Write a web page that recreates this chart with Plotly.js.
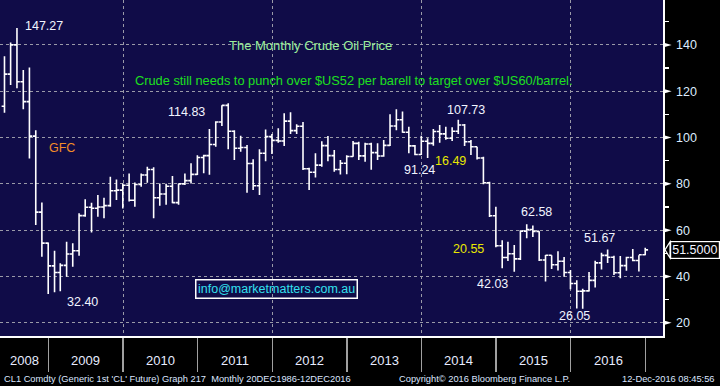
<!DOCTYPE html>
<html>
<head>
<meta charset="utf-8">
<script src="https://cdn.plot.ly/plotly-3.0.1.min.js"></script>
<style>
html,body{margin:0;padding:0;background:#000;}
#chart{width:720px;height:386px;}
</style>
</head>
<body>
<div id="chart"></div>
<script>
// ---- Data (monthly CL1 bars) ----
const months = [
  "2008-05","2008-06","2008-07","2008-08","2008-09","2008-10","2008-11","2008-12",
  "2009-01","2009-02","2009-03","2009-04","2009-05","2009-06","2009-07","2009-08","2009-09","2009-10","2009-11","2009-12",
  "2010-01","2010-02","2010-03","2010-04","2010-05","2010-06","2010-07","2010-08","2010-09","2010-10","2010-11","2010-12",
  "2011-01","2011-02","2011-03","2011-04","2011-05","2011-06","2011-07","2011-08","2011-09","2011-10","2011-11","2011-12",
  "2012-01","2012-02","2012-03","2012-04","2012-05","2012-06","2012-07","2012-08","2012-09","2012-10","2012-11","2012-12",
  "2013-01","2013-02","2013-03","2013-04","2013-05","2013-06","2013-07","2013-08","2013-09","2013-10","2013-11","2013-12",
  "2014-01","2014-02","2014-03","2014-04","2014-05","2014-06","2014-07","2014-08","2014-09","2014-10","2014-11","2014-12",
  "2015-01","2015-02","2015-03","2015-04","2015-05","2015-06","2015-07","2015-08","2015-09","2015-10","2015-11","2015-12",
  "2016-01","2016-02","2016-03","2016-04","2016-05","2016-06","2016-07","2016-08","2016-09","2016-10","2016-11","2016-12"
];
const openP = [
  113.5,127.4,140.0,124.1,115.5,100.6,67.8,54.4,
  44.6,41.7,44.8,49.7,51.1,66.3,69.9,69.5,70.0,70.6,77.0,77.3,
  79.4,72.9,79.7,83.8,86.2,74.0,75.6,79.0,71.9,80.0,81.4,84.1,
  91.4,92.2,97.0,106.7,113.9,102.7,95.4,95.7,88.8,79.2,93.2,100.4,
  98.8,98.5,107.1,103.0,104.9,86.5,85.0,88.1,96.5,92.2,86.2,88.9,
  91.8,97.5,92.1,97.2,93.5,92.0,96.6,105.0,107.7,102.3,96.4,92.7,
  98.4,97.5,102.6,101.6,99.7,102.7,105.4,98.2,96.0,91.2,80.5,66.2,
  53.3,48.2,49.8,47.6,59.6,60.3,59.5,47.1,49.2,45.1,46.6,41.7,
  37.0,33.6,33.8,38.3,45.9,49.1,48.3,41.6,44.7,48.2,46.9,49.4
];
const highP = [
  135.1,141.0,147.3,129.2,130.3,103.2,72.0,54.7,
  51.1,45.7,55.0,54.3,67.3,73.4,71.8,75.2,74.0,83.1,81.9,80.2,
  84.5,80.6,84.5,87.4,87.2,80.2,80.0,83.4,80.2,84.5,88.9,92.4,
  92.6,103.7,107.0,113.9,114.8,103.1,100.8,96.8,90.6,94.9,103.5,101.5,
  104.0,110.5,110.9,105.7,106.7,87.0,93.2,98.4,100.7,94.6,90.3,92.4,
  98.5,98.2,97.8,97.8,97.5,98.9,110.1,112.2,111.2,104.7,96.8,100.8,
  99.7,103.7,105.4,104.7,104.5,107.7,105.9,98.9,96.0,91.7,80.9,70.1,
  55.7,55.0,53.6,60.0,62.6,62.0,59.5,49.3,49.2,50.9,48.4,42.8,
  38.4,34.7,41.9,46.8,50.2,51.7,49.0,48.8,48.5,51.9,49.2,52.4
];
const lowP = [
  110.7,122.7,121.3,112.2,91.0,62.2,48.5,32.4,
  33.2,33.6,39.9,44.2,49.0,65.8,59.0,65.8,65.1,70.1,73.0,69.4,
  72.4,70.1,78.8,80.5,65.1,70.5,71.0,71.6,71.0,79.5,80.2,83.8,
  84.6,83.9,96.0,105.0,95.0,90.3,93.9,76.2,77.3,75.2,89.8,92.9,
  97.8,96.3,101.5,101.5,86.0,77.3,82.8,87.4,89.8,85.2,84.0,84.1,
  91.7,90.3,89.5,86.1,90.3,91.7,96.4,103.2,102.1,93.2,92.4,92.5,
  91.2,96.5,97.8,99.0,98.5,101.5,96.4,92.5,90.5,79.8,65.7,52.6,
  43.6,46.7,42.0,47.1,56.5,57.1,46.7,37.8,43.2,42.6,39.9,34.5,
  26.2,26.1,33.5,35.2,43.0,45.8,40.6,39.2,42.5,46.6,42.2,49.2
];
const closeP = [
  127.4,140.0,124.1,115.5,100.6,67.8,54.4,44.6,
  41.7,44.8,49.7,51.1,66.3,69.9,69.5,70.0,70.6,77.0,77.3,79.4,
  72.9,79.7,83.8,86.2,74.0,75.6,79.0,71.9,80.0,81.4,84.1,91.4,
  92.2,97.0,106.7,113.9,102.7,95.4,95.7,88.8,79.2,93.2,100.4,98.8,
  98.5,107.1,103.0,104.9,86.5,85.0,88.1,96.5,92.2,86.2,88.9,91.8,
  97.5,92.1,97.2,93.5,92.0,96.6,105.0,107.7,102.3,96.4,92.7,98.4,
  97.5,102.6,101.6,99.7,102.7,105.4,98.2,96.0,91.2,80.5,66.2,53.3,
  48.2,49.8,47.6,59.6,60.3,59.5,47.1,49.2,45.1,46.6,41.7,37.0,
  33.6,33.8,38.3,45.9,49.1,48.3,41.6,44.7,48.2,46.9,49.4,51.5
];
const yearLabels = [2008,2009,2010,2011,2012,2013,2014,2015,2016,2017];
const yTickVals = [20,40,60,80,100,120,140];
const yMinorVals = [30,50,70,90,110,130,150];

const callouts = [
  {text:"147.27", x:0.0661, y:0.9226, color:"#f2f5ff"},
  {text:"114.83", x:0.2817, y:0.6658, color:"#f2f5ff"},
  {text:"GFC",    x:0.0931, y:0.5604, color:"#f28c28"},
  {text:"32.40",  x:0.1249, y:0.1003, color:"#f2f5ff"},
  {text:"91.24",  x:0.6323, y:0.4940, color:"#f2f5ff"},
  {text:"16.49",  x:0.6795, y:0.5217, color:"#e8e800"},
  {text:"107.73", x:0.7026, y:0.6726, color:"#f2f5ff"},
  {text:"20.55",  x:0.7063, y:0.2589, color:"#e8e800"},
  {text:"42.03",  x:0.7428, y:0.1548, color:"#f2f5ff"},
  {text:"62.58",  x:0.8097, y:0.3682, color:"#f2f5ff"},
  {text:"51.67",  x:0.9035, y:0.2908, color:"#f2f5ff"},
  {text:"26.05",  x:0.8658, y:0.0595, color:"#f2f5ff"}
];

// ---- helpers ----
function monthEnd(s){
  const p = s.split('-').map(Number);
  return new Date(Date.UTC(p[0], p[1], 0)).toISOString().slice(0,10);
}
const xDates = months.map(monthEnd);
const xStart = '2008-05-09', xEnd = '2017-03-28';
const FONT = 'Arial, "Liberation Sans", sans-serif';

const trace = {
  type:'ohlc',
  x:xDates, open:openP, high:highP, low:lowP, close:closeP,
  increasing:{line:{color:'#ffffff', width:1.6}},
  decreasing:{line:{color:'#ffffff', width:1.6}},
  tickwidth:0.5,
  hoverinfo:'skip',
  showlegend:false
};

const annotations = [];
callouts.forEach(c => annotations.push({
  xref:'paper', yref:'paper', x:c.x, y:c.y, text:c.text, showarrow:false,
  xanchor:'center', yanchor:'middle', font:{family:FONT, size:12.5, color:c.color}
}));
annotations.push({xref:'paper', yref:'paper', x:0.4676, y:0.8929, text:'The Monthly Crude Oil Price',
  showarrow:false, font:{family:FONT, size:13, color:'#9cf09c'}});
annotations.push({xref:'paper', yref:'paper', x:0.5339, y:0.7896,
  text:'Crude still needs to punch over $US52 per barell to target over $US60/barrel.',
  showarrow:false, font:{family:FONT, size:12.8, color:'#1ee01e'}});
annotations.push({xref:'paper', yref:'paper', x:0.4163, y:0.1101, text:'info@marketmatters.com.au',
  showarrow:false, bordercolor:'#ffffff', borderwidth:1.5, borderpad:1.5, bgcolor:'rgba(0,0,0,0)',
  font:{family:FONT, size:12.5, color:'#33e0ee'}});

// year labels centred on visible portion of each year
const s0 = Date.parse(xStart), s1 = Date.parse(xEnd);
yearLabels.forEach(y => {
  const a = Math.max(Date.UTC(y,0,1), s0), b = Math.min(Date.UTC(y+1,0,1), s1);
  if ((b - a) < 0.5*365*86400000) return;
  annotations.push({xref:'x', yref:'paper', x:new Date((a+b)/2).toISOString().slice(0,10), y:-0.0744,
    text:String(y), showarrow:false, yanchor:'middle', font:{family:FONT, size:13, color:'#e6ecff'}});
});

// last price label
const last = closeP[closeP.length-1];
annotations.push({xref:'paper', yref:'y', x:1.048, y:last, text:last.toFixed(4), showarrow:false,
  xanchor:'center', yanchor:'middle', bgcolor:'#000000', bordercolor:'#ffffff', borderwidth:1.2, borderpad:1,
  font:{family:FONT, size:12.5, color:'#f2f5ff'}});

// footer
annotations.push({xref:'paper', yref:'paper', x:0.003, y:-0.128, xanchor:'left', yanchor:'middle', showarrow:false,
  text:"CL1 Comdty (Generic 1st 'CL' Future) Graph 217  Monthly 20DEC1986-12DEC2016",
  font:{family:FONT, size:9.3, color:'#dde6ff'}});
annotations.push({xref:'paper', yref:'paper', x:0.5983, y:-0.128, xanchor:'left', yanchor:'middle', showarrow:false,
  text:"Copyright\u00a9 2016 Bloomberg Finance L.P.", font:{family:FONT, size:9.3, color:'#dde6ff'}});
annotations.push({xref:'paper', yref:'paper', x:1.0820, y:-0.128, xanchor:'right', yanchor:'middle', showarrow:false,
  text:"12-Dec-2016 08:45:56", font:{family:FONT, size:9.3, color:'#dde6ff'}});

// axis tick triangles
const shapes = yTickVals.map(v => ({
  type:'path', xref:'paper', yref:'y',
  path:`M 1 ${v+1.1} L 1.013 ${v} L 1 ${v-1.1} Z`,
  fillcolor:'#ffffff', line:{width:0}
}));
shapes.push({type:'path', xref:'paper', yref:'y',
  path:`M 1.0106 ${last+3.5} L 1.003 ${last} L 1.0106 ${last-3.5} Z`,
  fillcolor:'#000000', line:{color:'#ffffff', width:1.2}});

const layout = {
  width:720, height:386,
  margin:{l:0, r:57, t:0, b:50, pad:0},
  paper_bgcolor:'#000000',
  plot_bgcolor:'#100c48',
  showlegend:false,
  hovermode:false,
  xaxis:{
    type:'date', range:[xStart, xEnd],
    rangeslider:{visible:false},
    showticklabels:false,
    tick0:'2010-01-01', dtick:'M24',
    ticks:'outside', ticklen:34, tickcolor:'#a0a0a0', tickwidth:1.2,
    showgrid:true, gridcolor:'#9a9aa8', gridwidth:1, griddash:'3px,3px',
    minor:{tick0:'2008-01-01', dtick:'M12', ticks:'outside', ticklen:34, tickcolor:'#a0a0a0', tickwidth:1.2, showgrid:false},
    showline:true, linecolor:'#ffffff', linewidth:1.5,
    zeroline:false, fixedrange:true
  },
  yaxis:{
    side:'right', range:[14.3, 159.4],
    tickvals:yTickVals, ticktext:yTickVals.map(String),
    ticks:'outside', ticklen:9, tickcolor:'rgba(0,0,0,0)',
    tickfont:{family:FONT, size:12.5, color:'#dcecff'},
    showgrid:true, gridcolor:'#9a9aa8', gridwidth:1, griddash:'3px,3px',
    minor:{tickvals:yMinorVals, ticks:'outside', ticklen:4, tickcolor:'#ffffff', tickwidth:1.2, showgrid:false},
    showline:true, linecolor:'#ffffff', linewidth:1.5,
    zeroline:false, fixedrange:true
  },
  annotations:annotations,
  shapes:shapes
};

Plotly.newPlot('chart', [trace], layout, {staticPlot:true, displayModeBar:false});
</script>
</body>
</html>
